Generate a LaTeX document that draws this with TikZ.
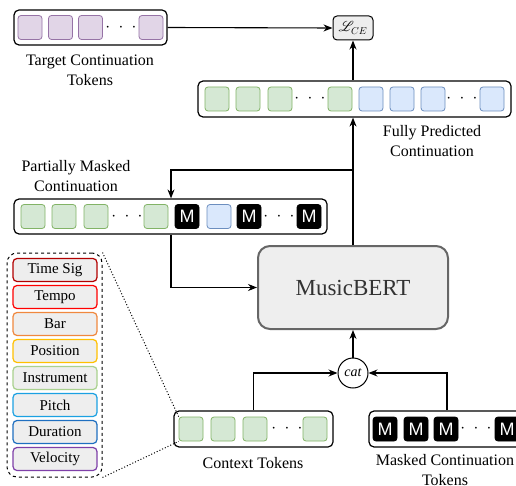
\documentclass[tikz,border=0pt]{standalone}
\usepackage{fontspec}
\setmainfont{Liberation Serif}
\newfontfamily\tokfont{Liberation Sans}
\usepackage{mathrsfs}
\usetikzlibrary{arrows.meta}
\usetikzlibrary{positioning}
\definecolor{grnfill}{HTML}{D5E8D4}
\definecolor{grnline}{HTML}{82B366}
\definecolor{blufill}{HTML}{DAE8FC}
\definecolor{bluline}{HTML}{6C8EBF}
\definecolor{purfill}{HTML}{E1D5E7}
\definecolor{purline}{HTML}{9673A6}
\definecolor{boxgray}{HTML}{EEEEEE}
\definecolor{tsig}{HTML}{B20000}
\definecolor{tempo}{HTML}{FF0000}
\definecolor{bar}{HTML}{F0883E}
\definecolor{posn}{HTML}{FFC000}
\definecolor{instr}{HTML}{A9D18E}
\definecolor{pitch}{HTML}{1BA1E2}
\definecolor{durn}{HTML}{1F6FC0}
\definecolor{velo}{HTML}{7E3FA8}
\newcommand{\tokdots}{$\cdot\hspace{4.5pt}\cdot\hspace{4.5pt}\cdot$}
\tikzset{tok/.style = {rounded corners=3pt, minimum size=24pt, inner sep=0pt, line width=0.8pt},
         grn/.style = {tok, draw=grnline, fill=grnfill},
         blu/.style = {tok, draw=bluline, fill=blufill},
         pur/.style = {tok, draw=purline, fill=purfill},
         msk/.style = {tok, draw=black, fill=black, text=white, font=\tokfont\fontsize{18}{18}\selectfont},
         row/.style = {draw, rounded corners=5pt, line width=1.2pt, fill=white, inner sep=0pt, minimum height=36pt},
         dots/.style = {inner sep=0pt, font=\fontsize{18}{18}\selectfont},
         lbl/.style = {align=center, inner sep=0pt, font=\fontsize{16}{20}\selectfont},
         legitem/.style = {draw=#1, rounded corners=4pt, line width=1.2pt, fill=boxgray, minimum width=84pt,
                           minimum height=23pt, inner sep=0pt, font=\fontsize{15}{15}\selectfont},
         arr/.style = {-{Stealth[length=9pt,width=7pt]}, line width=1.1pt}}

\begin{document}
\begin{tikzpicture}[x=1pt, y=-1pt]
  \useasboundingbox (0,0) rectangle (516,486);
  % target continuation
  \node[row, minimum width=153pt, minimum height=35pt] (tgt) at (90.5,27.5) {};
  \foreach \x [count=\i] in {30,60.5,90.5,151} \node[pur] (tg\i) at (\x,27.5) {};
  \node[dots] (tgd) at (121,27.5) {\tokdots};
  \node[lbl] (tgtl) at (90,70) {Target Continuation\\Tokens};
  \node[draw, rounded corners=4pt, line width=1pt, fill=boxgray, minimum width=40pt, minimum height=24pt,
        inner sep=0pt, font=\fontsize{14}{14}\selectfont] (lce) at (353,28) {$\mathscr{L}_{CE}$};

  % fully predicted
  \node[row, minimum width=313pt] (fp) at (354.5,99) {};
  \foreach \x [count=\i] in {217,248,280,340} \node[grn] (fg\i) at (\x,99) {};
  \foreach \x [count=\i] in {371,402,433,492} \node[blu] (fb\i) at (\x,99) {};
  \node[dots] (fd1) at (310,99) {\tokdots};
  \node[dots] (fd2) at (462,99) {\tokdots};
  \node[lbl] (fpl) at (432,141) {Fully Predicted\\Continuation};

  % partially masked
  \node[row, minimum width=313pt, minimum height=35pt] (pm) at (170.5,216.5) {};
  \foreach \x [count=\i] in {33,64,96,156} \node[grn] (pg\i) at (\x,216.5) {};
  \foreach \x [count=\i] in {187,249,309} \node[msk] (pk\i) at (\x,216.5) {M};
  \node[blu] (pb1) at (219,216.5) {};
  \node[dots] (pd1) at (127,216.5) {\tokdots};
  \node[dots] (pd2) at (279,216.5) {\tokdots};
  \node[lbl] (pml) at (76,176) {Partially Masked\\Continuation};

  % model
  \node[draw=black!60, line width=2pt, rounded corners=12pt, fill=boxgray, text=black!80, minimum width=190pt,
        minimum height=83pt, font=\fontsize{23}{23}\selectfont] (bert) at (353,287.5) {MusicBERT};
  \node[draw, circle, line width=1pt, fill=white, minimum size=30pt, inner sep=0pt,
        font=\itshape\fontsize{14}{14}\selectfont] (cat) at (353,373) {cat};

  % inputs
  \node[row, minimum width=159pt] (ctx) at (253.5,429) {};
  \foreach \x [count=\i] in {191,223,255,315} \node[grn] (ct\i) at (\x,429) {};
  \node[dots] (ctd) at (287,429) {\tokdots};
  \node[lbl] (ctxl) at (253,463) {Context Tokens};
  \node[row, minimum width=156pt] (mk) at (447,429) {};
  \foreach \x [count=\i] in {385,416,446,507} \node[msk] (mk\i) at (\x,429) {M};
  \node[dots] (mkd) at (476,429) {\tokdots};
  \node[lbl] (mkl) at (445,470) {Masked Continuation\\Tokens};

  % token fields
  \node[draw, dashed, rounded corners=10pt, line width=1pt, minimum width=95pt, minimum height=224pt] (leg) at (54.5,365) {};
  \foreach \t/\c [count=\i] in {Time Sig/tsig, Tempo/tempo, Bar/bar, Position/posn,
                                Instrument/instr, Pitch/pitch, Duration/durn, Velocity/velo}
    \node[legitem=\c] (lg\i) at (55,{243+27*\i}) {\t};
  \draw[dotted, line width=1pt] (leg.north east) -- (ct1.north west);
  \draw[dotted, line width=1pt] (leg.south east) -- (ct1.south west);

  % connectors
  \coordinate (brk) at (353,170);
  \coordinate (pmx) at (171,216.5);
  \draw[arr] (tgt.east) -- (lce.west);
  \draw[arr] (lce |- fp.north) -- (lce.south);
  \draw[arr] (bert.north) -- (bert.north |- fp.south);
  \draw[arr] (brk) -| (pmx |- pm.north);
  \draw[arr] (pmx |- pm.south) |- (bert.west);
  \draw[arr] (ctx.north) |- (cat.west);
  \draw[arr] (mk.north) |- (cat.east);
  \draw[arr] (cat.north) -- (bert.south);
\end{tikzpicture}
\end{document}
